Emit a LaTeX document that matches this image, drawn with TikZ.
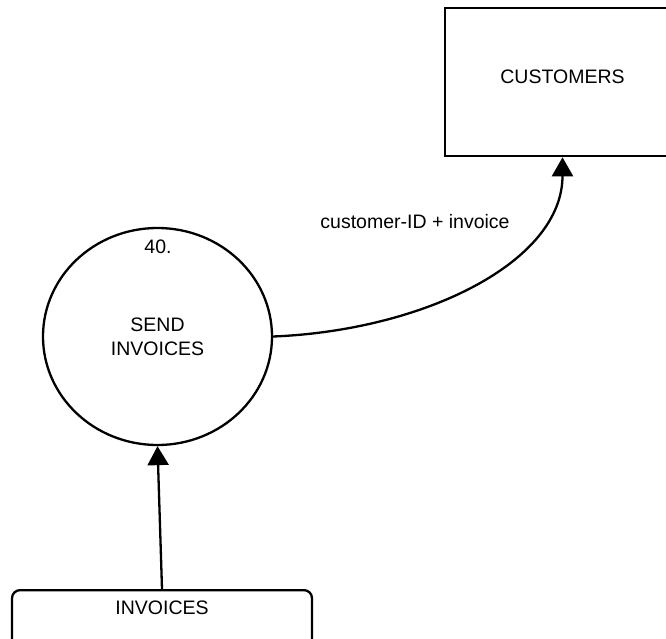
\documentclass[tikz,border=0pt]{standalone}
\usepackage{fontspec}
\setmainfont{Liberation Sans}
\usetikzlibrary{arrows.meta,shapes.geometric}
\begin{document}
\begin{tikzpicture}[x=1pt,y=-1pt,
  every node/.style={font=\fontsize{19.5}{24}\selectfont},
  line/.style={line width=2.3pt},
  flow/.style={line, -{Triangle[length=19pt,width=21pt]}},
  proc/.style={draw, line width=2.3pt, ellipse, minimum width=229pt, minimum height=217pt, inner sep=0pt, align=center},
  store/.style={draw, line width=2.3pt, rectangle, inner ysep=4pt}
]
\useasboundingbox (0,0) rectangle (666,639);
\node[proc] (send) at (157.5,336.5) {SEND\\INVOICES};
\node (pid) at (158,247) {40.};
\node[store, minimum width=235pt, text height=71pt, text depth=69pt, anchor=north] (cust) at (562.5,7) {CUSTOMERS};
\node[store, rounded corners=8pt, minimum width=300pt, text height=20pt, text depth=45pt, anchor=north] (inv) at (162,589) {INVOICES};
\node (lbl) at (415,222) {customer-ID + invoice};
\draw[flow] (send.east) .. controls +(150,-6) and +(0,105) .. (cust.south);
\draw[flow] (inv.north) -- (send.south);
\end{tikzpicture}
\end{document}
